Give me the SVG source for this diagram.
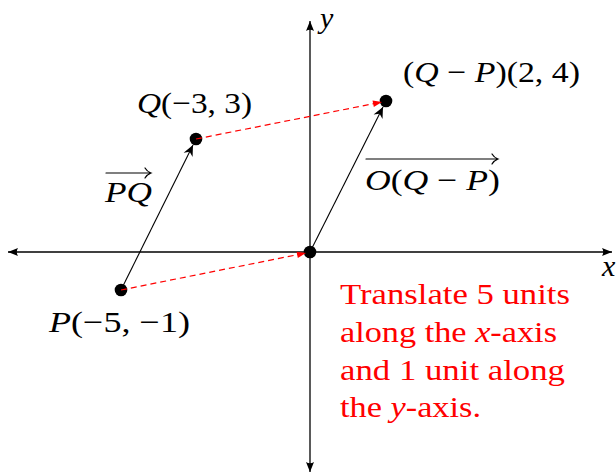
<svg xmlns="http://www.w3.org/2000/svg" width="616" height="475" viewBox="0 0 616 475">
<style>
.t{font-family:'Liberation Serif','Times New Roman',Times,Tinos,'Nimbus Roman',serif;font-size:30px;fill:#000}
.r{fill:#ff0000}
.i{font-style:italic}
.ax{stroke:#000;stroke-width:1.3;fill:none}
.vec{stroke:#000;stroke-width:1.1;fill:none}
.dash{stroke:#ff0000;stroke-width:1.2;stroke-dasharray:6 4;fill:none}
.ov{stroke:#000;stroke-width:1.2;fill:none;stroke-linecap:round}
.dot{fill:#000}
</style>
<defs>
<marker id="axh" markerUnits="userSpaceOnUse" viewBox="-11 -5 12 10" refX="0" refY="0" markerWidth="12" markerHeight="10" orient="auto-start-reverse">
<path d="M0,0 L-10,-4 Q-7.5,0 -10,4 Z" fill="#000"/>
</marker>
<marker id="st" markerUnits="userSpaceOnUse" viewBox="-12 -6 13 12" refX="0" refY="0" markerWidth="13" markerHeight="12" orient="auto">
<path d="M0,0 L-11,-5 L-7.5,0 L-11,5 Z" fill="#000"/>
</marker>
<marker id="rh" markerUnits="userSpaceOnUse" viewBox="-10 -4 11 8" refX="0" refY="0" markerWidth="11" markerHeight="8" orient="auto">
<path d="M0,0 L-9,-3.2 L-9,3.2 Z" fill="#ff0000"/>
</marker>
</defs>

<g id="axes">
<line class="ax" x1="8" y1="252" x2="612" y2="252" marker-start="url(#axh)" marker-end="url(#axh)"/>
<line class="ax" x1="310" y1="472" x2="310" y2="21" marker-start="url(#axh)" marker-end="url(#axh)"/>
<text class="t i" x="602" y="276">x</text>
<text class="t i" x="320" y="28">y</text>
</g>

<g id="connectors">
<line class="vec" x1="121" y1="290" x2="193" y2="145" marker-end="url(#st)"/>
<line class="vec" x1="310" y1="252" x2="383" y2="107" marker-end="url(#st)"/>
</g>

<g id="P">
<circle class="dot" cx="121" cy="290" r="6.3"/>
<text class="t" x="49" y="332" textLength="141" lengthAdjust="spacingAndGlyphs"><tspan class="i">P</tspan>(−5, −1)</text>
</g>
<g id="Q">
<circle class="dot" cx="196" cy="139" r="6.3"/>
<text class="t" x="137" y="113" textLength="115" lengthAdjust="spacingAndGlyphs"><tspan class="i">Q</tspan>(−3, 3)</text>
</g>
<g id="O">
<circle class="dot" cx="310" cy="252" r="6.3"/>
</g>
<g id="QP">
<circle class="dot" cx="386" cy="101" r="6.3"/>
<text class="t" x="403" y="82" textLength="177" lengthAdjust="spacingAndGlyphs">(<tspan class="i">Q</tspan> − <tspan class="i">P</tspan>)(2, 4)</text>
</g>

<g id="connectors-red">
<line class="dash" x1="121" y1="290" x2="306" y2="253" marker-end="url(#rh)"/>
<line class="dash" x1="196" y1="139" x2="382" y2="102" marker-end="url(#rh)"/>
</g>

<g id="label-PQ">
<text class="t i" x="105" y="202" textLength="47" lengthAdjust="spacingAndGlyphs">PQ</text>
<path class="ov" d="M106,173 H150 M145,168 Q147,171.5 151,173 Q147,174.5 145,178"/>
</g>
<g id="label-OQP">
<text class="t" x="365" y="190" textLength="135" lengthAdjust="spacingAndGlyphs"><tspan class="i">O</tspan>(<tspan class="i">Q</tspan> − <tspan class="i">P</tspan>)</text>
<path class="ov" d="M366,159 H497 M492,154 Q494,157.5 498,159 Q494,160.5 492,164"/>
</g>

<g id="note">
<text class="t r" x="340" y="304" textLength="230" lengthAdjust="spacingAndGlyphs">Translate 5 units</text>
<text class="t r" x="340" y="342" textLength="217" lengthAdjust="spacingAndGlyphs">along the <tspan class="i">x</tspan>-axis</text>
<text class="t r" x="340" y="380" textLength="225" lengthAdjust="spacingAndGlyphs">and 1 unit along</text>
<text class="t r" x="340" y="417" textLength="141" lengthAdjust="spacingAndGlyphs">the <tspan class="i">y</tspan>-axis.</text>
</g>
</svg>
